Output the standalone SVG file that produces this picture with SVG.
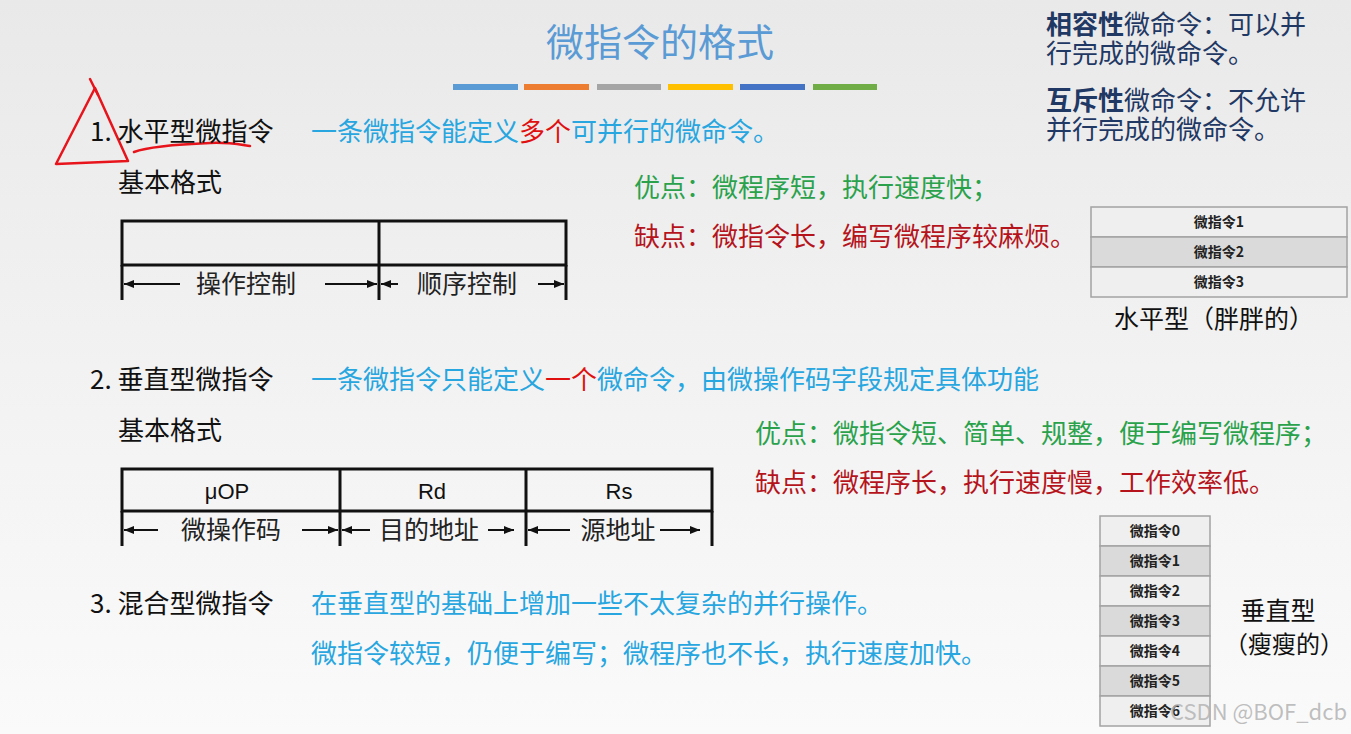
<svg xmlns="http://www.w3.org/2000/svg" width="1351" height="734" viewBox="0 0 1351 734">
<defs>
<linearGradient id="bg" x1="0" y1="0" x2="0" y2="1">
<stop offset="0" stop-color="#e9e9e9"/>
<stop offset="0.5" stop-color="#f2f2f2"/>
<stop offset="1" stop-color="#fafafa"/>
</linearGradient>
<marker id="ah" viewBox="0 0 10 10" refX="10" refY="5" markerWidth="5" markerHeight="5" orient="auto-start-reverse" markerUnits="strokeWidth">
<path d="M0,1 L10,5 L0,9 Z" fill="#111"/>
</marker>
<style>
text{font-family:"Noto Sans CJK SC","Noto Sans",sans-serif;}
.h{font-size:26px;fill:#111;}
.blue{font-size:26px;fill:#27a6e0;}
.red{fill:#e01010;}
.green{font-size:26px;fill:#2aa24c;}
.dred{font-size:26px;fill:#b5141c;}
.navy{font-size:26px;fill:#1f3864;}
.b{font-weight:bold;}
.tbl{fill:none;stroke:#111;stroke-width:3;}
.arr{stroke:#111;stroke-width:2;fill:none;marker-end:url(#ah);}
.lbl{font-size:25px;fill:#222;text-anchor:middle;}
.fld{font-family:"Liberation Sans","Noto Sans",sans-serif;font-size:22px;fill:#111;text-anchor:middle;}
.cell1{fill:#efefef;stroke:#a3a3a3;stroke-width:1.5;}
.cell2{fill:#dadada;stroke:#a3a3a3;stroke-width:1.5;}
.ct{font-size:14px;font-weight:bold;fill:#222;text-anchor:middle;}
.ink{fill:none;stroke:#e8141c;stroke-width:2.5;stroke-linecap:round;stroke-linejoin:round;}
</style>
</defs>
<rect width="1351" height="734" fill="url(#bg)"/>

<g id="title">
<text x="660" y="56" font-size="38" fill="#5b9bd5" text-anchor="middle">微指令的格式</text>
<rect x="453" y="84" width="65" height="6" fill="#5b9bd5"/>
<rect x="524" y="84" width="65" height="6" fill="#ed7d31"/>
<rect x="597" y="84" width="64" height="6" fill="#a5a5a5"/>
<rect x="668" y="84" width="65" height="6" fill="#ffc000"/>
<rect x="740" y="84" width="65" height="6" fill="#4472c4"/>
<rect x="813" y="84" width="64" height="6" fill="#70ad47"/>
</g>

<g id="compatible">
<text class="navy" x="1046" y="34"><tspan class="b">相容性</tspan>微命令：可以并<tspan x="1046" dy="29">行完成的微命令。</tspan></text>
</g>
<g id="exclusive">
<text class="navy" x="1046" y="110"><tspan class="b">互斥性</tspan>微命令：不允许<tspan x="1046" dy="29">并行完成的微命令。</tspan></text>
</g>

<g id="annotation">
<path class="ink" d="M95,88 L56,164 L128,161 Z"/>
<path class="ink" d="M90,79 L98,95"/>
<path class="ink" d="M134,152 C150,146 185,144 210,143 C228,142 242,145 250,146"/>
</g>

<g id="horizontal">
<text class="h" x="90" y="141">1. 水平型微指令</text>
<text class="blue" x="311" y="141">一条微指令能定义<tspan class="red">多个</tspan>可并行的微命令。</text>
<text class="h" x="118" y="192">基本格式</text>
<text class="green" x="634" y="197">优点：微程序短，执行速度快；</text>
<text class="dred" x="634" y="246">缺点：微指令长，编写微程序较麻烦。</text>
</g>

<g id="horizontal-format">
<rect class="tbl" x="122" y="221" width="444" height="44"/>
<path class="tbl" d="M379,221 V300 M122,265 V300 M566,265 V300"/>
<text class="lbl" x="246" y="293">操作控制</text>
<text class="lbl" x="467" y="293">顺序控制</text>
</g>

<g id="horizontal-box">
<rect class="cell1" x="1091" y="207" width="256" height="30"/>
<rect class="cell2" x="1091" y="237" width="256" height="30"/>
<rect class="cell1" x="1091" y="267" width="256" height="30"/>
<text class="ct" x="1219" y="227">微指令1</text>
<text class="ct" x="1219" y="257">微指令2</text>
<text class="ct" x="1219" y="287">微指令3</text>
<text x="1214" y="328" font-size="25" fill="#111" text-anchor="middle">水平型（胖胖的）</text>
</g>

<g id="vertical">
<text class="h" x="90" y="389">2. 垂直型微指令</text>
<text class="blue" x="311" y="389">一条微指令只能定义<tspan class="red">一个</tspan>微命令，由微操作码字段规定具体功能</text>
<text class="h" x="118" y="440">基本格式</text>
<text class="green" x="755" y="443">优点：微指令短、简单、规整，便于编写微程序；</text>
<text class="dred" x="755" y="492">缺点：微程序长，执行速度慢，工作效率低。</text>
</g>

<g id="vertical-format">
<rect class="tbl" x="122" y="469" width="590" height="42"/>
<path class="tbl" d="M340,469 V546 M526,469 V546 M122,511 V546 M712,511 V546"/>
<text class="fld" x="227" y="499">μOP</text>
<text class="fld" x="432" y="499">Rd</text>
<text class="fld" x="619" y="499">Rs</text>
<text class="lbl" x="231" y="539">微操作码</text>
<text class="lbl" x="429" y="539">目的地址</text>
<text class="lbl" x="618" y="539">源地址</text>
</g>

<g id="vertical-box">
<rect class="cell1" x="1100" y="516" width="110" height="30"/>
<rect class="cell2" x="1100" y="546" width="110" height="30"/>
<rect class="cell1" x="1100" y="576" width="110" height="30"/>
<rect class="cell2" x="1100" y="606" width="110" height="30"/>
<rect class="cell1" x="1100" y="636" width="110" height="30"/>
<rect class="cell2" x="1100" y="666" width="110" height="30"/>
<rect class="cell1" x="1100" y="696" width="110" height="30"/>
<text class="ct" x="1155" y="536">微指令0</text>
<text class="ct" x="1155" y="566">微指令1</text>
<text class="ct" x="1155" y="596">微指令2</text>
<text class="ct" x="1155" y="626">微指令3</text>
<text class="ct" x="1155" y="656">微指令4</text>
<text class="ct" x="1155" y="686">微指令5</text>
<text class="ct" x="1155" y="716">微指令6</text>
<text x="1278" y="620" font-size="25" fill="#111" text-anchor="middle">垂直型</text>
<text x="1284" y="653" font-size="24" fill="#111" text-anchor="middle">（瘦瘦的）</text>
</g>

<g id="hybrid">
<text class="h" x="90" y="613">3. 混合型微指令</text>
<text class="blue" x="311" y="613">在垂直型的基础上增加一些不太复杂的并行操作。</text>
<text class="blue" x="311" y="663">微指令较短，仍便于编写；微程序也不长，执行速度加快。</text>
</g>

<g id="connectors">
<line class="arr" x1="180" y1="284" x2="124" y2="284"/>
<line class="arr" x1="325" y1="284" x2="377" y2="284"/>
<line class="arr" x1="398" y1="284" x2="381" y2="284"/>
<line class="arr" x1="538" y1="284" x2="564" y2="284"/>
<line class="arr" x1="158" y1="530" x2="124" y2="530"/>
<line class="arr" x1="302" y1="530" x2="338" y2="530"/>
<line class="arr" x1="370" y1="530" x2="342" y2="530"/>
<line class="arr" x1="488" y1="530" x2="514" y2="530"/>
<line class="arr" x1="570" y1="530" x2="528" y2="530"/>
<line class="arr" x1="660" y1="530" x2="700" y2="530"/>
</g>

<g id="watermark">
<text x="1347" y="720" font-family="Liberation Sans, sans-serif" font-size="22" fill="#b4b4b4" fill-opacity="0.85" text-anchor="end">CSDN @BOF_dcb</text>
</g>
</svg>
